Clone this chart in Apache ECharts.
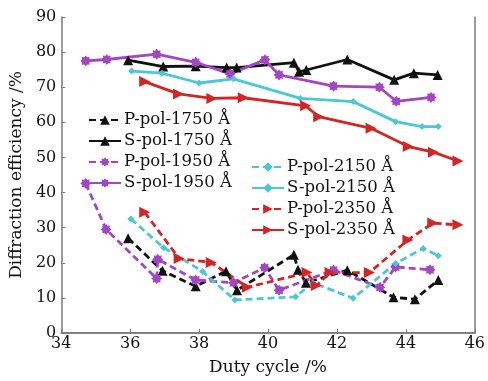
<!DOCTYPE html>
<html>
<head>
<meta charset="utf-8">
<script src="https://cdn.jsdelivr.net/npm/echarts@6/dist/echarts.min.js"></script>
<style>html,body{margin:0;padding:0;background:#fff;}#c{width:488px;height:381px;}</style>
</head>
<body>
<div id="c"></div>
<script>
// ---- data ----
const xTicks = [34, 36, 38, 40, 42, 44, 46];
const yTicks = [0, 10, 20, 30, 40, 50, 60, 70, 80, 90];

const p1750x = [35.94, 36.94, 37.9, 38.78, 39.1, 40.75, 40.87, 41.1, 42.3, 43.64, 44.26, 44.94];
const p1750y = [27.0, 17.7, 13.3, 17.6, 12.2, 22.3, 18.0, 14.3, 17.9, 10.2, 9.6, 15.1];
const s1750x = [35.94, 36.96, 37.9, 38.8, 39.09, 40.75, 40.9, 41.11, 42.3, 43.66, 44.23, 44.92];
const s1750y = [77.7, 75.9, 76.0, 75.6, 75.6, 77.0, 74.4, 74.9, 77.9, 72.1, 74.0, 73.5];
const p1950x = [34.71, 35.3, 36.77, 36.8, 37.9, 39.0, 39.9, 40.32, 41.9, 43.25, 43.7, 44.7];
const p1950y = [42.6, 29.5, 15.5, 21.0, 15.1, 14.3, 18.6, 12.2, 17.9, 13.0, 18.8, 18.0];
const s1950x = [34.71, 35.32, 36.77, 37.9, 38.9, 39.91, 40.32, 41.9, 43.23, 43.72, 44.73];
const s1950y = [77.5, 77.9, 79.4, 77.1, 73.8, 77.8, 73.5, 70.3, 70.0, 66.0, 67.1];
const p2150x = [36.02, 36.97, 38.1, 39.04, 40.8, 41.3, 42.47, 43.7, 44.5, 44.94];
const p2150y = [32.5, 24.3, 17.5, 9.4, 10.3, 14.3, 9.9, 19.8, 24.1, 22.0];
const s2150x = [36.04, 36.92, 38.0, 39.0, 40.94, 42.47, 43.7, 44.47, 44.94];
const s2150y = [74.6, 74.0, 71.2, 72.4, 66.8, 65.9, 60.2, 58.8, 58.8];
const p2350x = [36.42, 37.42, 38.35, 39.4, 41.13, 41.4, 41.8, 42.94, 44.06, 44.78, 45.51];
const p2350y = [34.4, 21.2, 20.1, 13.0, 17.2, 13.5, 17.2, 17.2, 26.5, 31.3, 30.8];
const s2350x = [36.42, 37.4, 38.37, 39.28, 41.09, 41.47, 42.99, 44.07, 44.8, 45.51];
const s2350y = [71.6, 68.1, 66.8, 67.0, 64.7, 61.6, 58.3, 53.1, 51.5, 49.0];

const names = ['P-pol-1750 Å','S-pol-1750 Å','P-pol-1950 Å','S-pol-1950 Å','P-pol-2150 Å','S-pol-2150 Å','P-pol-2350 Å','S-pol-2350 Å'];

// ---- styling ----
const FONT = 'DejaVu Serif';
const zip = (xs, ys) => xs.map((x, i) => [x, ys[i]]);

let star = 'path://';
for (let i = 0; i < 16; i++) {
  const a = i * Math.PI / 8;
  const r = i % 2 === 0 ? 10 : 7;
  star += (i === 0 ? 'M' : 'L') + (10 + r * Math.cos(a)).toFixed(2) + ',' + (10 + r * Math.sin(a)).toFixed(2);
}
star += 'Z';

const cBlack = '#111111', cPurple = '#a346c6', cCyan = '#4cc8d2', cRed = '#d52424';

function mk(name, xs, ys, color, dashed, symbol, size, rot) {
  return {
    name, type: 'line', data: zip(xs, ys),
    symbol, symbolSize: size, symbolRotate: rot || 0,
    lineStyle: { color, width: 2.8, type: dashed ? [7, 4] : 'solid' },
    itemStyle: { color },
    emphasis: { disabled: true },
    animation: false, z: dashed ? 3 : 4
  };
}

const series = [
  mk(names[0], p1750x, p1750y, cBlack, true, 'triangle', 10),
  mk(names[1], s1750x, s1750y, cBlack, false, 'triangle', 10),
  mk(names[2], p1950x, p1950y, cPurple, true, star, 11),
  mk(names[3], s1950x, s1950y, cPurple, false, star, 11),
  mk(names[4], p2150x, p2150y, cCyan, true, 'diamond', 7),
  mk(names[5], s2150x, s2150y, cCyan, false, 'diamond', 7),
  mk(names[6], p2350x, p2350y, cRed, true, 'triangle', 11, -90),
  mk(names[7], s2350x, s2350y, cRed, false, 'triangle', 11, -90)
];

const axisGray = '#7a7a7a';
const legendCommon = {
  orient: 'vertical', itemWidth: 32, itemHeight: 12, itemGap: 1,
  textStyle: { fontFamily: FONT, fontSize: 16.5, color: '#111', lineHeight: 20, padding: [0, 0, 0, -2] },
  padding: 0, selectedMode: false
};

const option = {
  backgroundColor: '#fff',
  animation: false,
  grid: { left: 57, right: 11, top: 17, bottom: 48 },
  legend: [
    Object.assign({ data: names.slice(0, 4), left: 88, top: 110 }, legendCommon),
    Object.assign({ data: names.slice(4), left: 251, top: 157 }, legendCommon)
  ],
  xAxis: [{
    type: 'value', min: xTicks[0], max: xTicks[xTicks.length - 1], interval: 2,
    name: 'Duty cycle /%', nameLocation: 'middle', nameGap: 26,
    nameTextStyle: { fontFamily: FONT, fontSize: 17, color: '#111' },
    axisLine: { lineStyle: { color: axisGray, width: 1.5 } },
    axisTick: { inside: true, length: 4, lineStyle: { color: axisGray } },
    axisLabel: { fontFamily: FONT, fontSize: 16, color: '#111', margin: 3 },
    splitLine: { show: false }
  }, {
    type: 'value', position: 'top', min: xTicks[0], max: xTicks[xTicks.length - 1], interval: 2,
    axisLine: { lineStyle: { color: axisGray, width: 1.5 } },
    axisTick: { show: false }, axisLabel: { show: false }, splitLine: { show: false }
  }],
  yAxis: [{
    type: 'value', min: yTicks[0], max: yTicks[yTicks.length - 1], interval: 10,
    name: 'Diffraction efficiency /%', nameLocation: 'middle', nameGap: 34,
    nameTextStyle: { fontFamily: FONT, fontSize: 17, color: '#111' },
    axisLine: { show: true, lineStyle: { color: axisGray, width: 1.5 } },
    axisTick: { show: true, inside: true, length: 4, lineStyle: { color: axisGray } },
    axisLabel: { fontFamily: FONT, fontSize: 16, color: '#111', margin: 5 },
    splitLine: { show: false }
  }, {
    type: 'value', position: 'right', min: yTicks[0], max: yTicks[yTicks.length - 1], interval: 10,
    axisLine: { show: true, lineStyle: { color: axisGray, width: 1.5 } },
    axisTick: { show: false }, axisLabel: { show: false }, splitLine: { show: false }
  }],
  series
};

const chart = echarts.init(document.getElementById('c'), null, { renderer: 'canvas' });
chart.setOption(option);
</script>
</body>
</html>
